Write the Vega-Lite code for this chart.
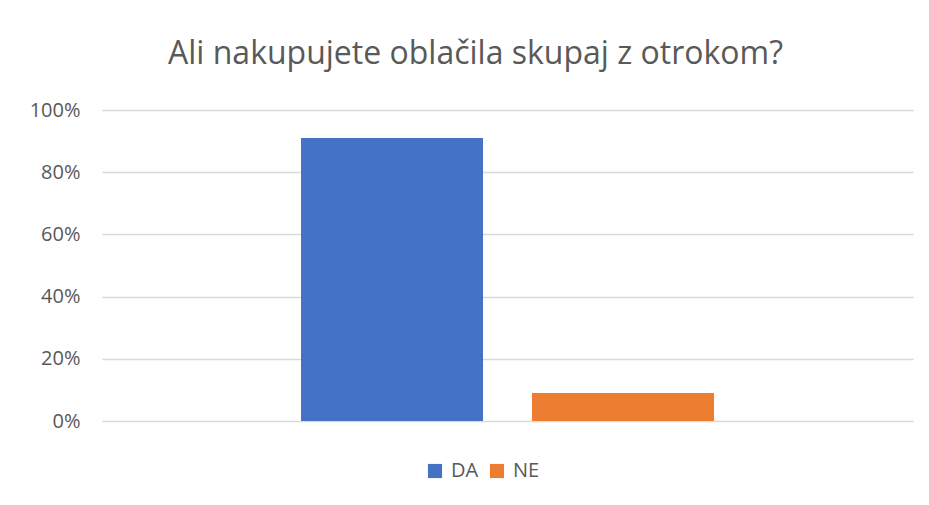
{
  "$schema": "https://vega.github.io/schema/vega-lite/v6.json",
  "autosize": "none",
  "width": 811,
  "height": 311,
  "padding": {"left": 102, "top": 110, "right": 16, "bottom": 84},
  "background": "white",
  "title": {
    "text": "Ali nakupujete oblačila skupaj z otrokom?",
    "font": "Open Sans",
    "fontSize": 32,
    "fontWeight": "normal",
    "color": "#595959",
    "anchor": "middle",
    "dx": -32,
    "offset": 29
  },
  "data": {
    "values": [
      {"odgovor": "DA", "delez": 0.91},
      {"odgovor": "NE", "delez": 0.09}
    ]
  },
  "mark": {"type": "bar"},
  "encoding": {
    "x": {
      "field": "odgovor",
      "type": "nominal",
      "axis": null,
      "scale": {"paddingInner": 0.212, "paddingOuter": 0.8615}
    },
    "y": {
      "field": "delez",
      "type": "quantitative",
      "scale": {"domain": [0, 1]},
      "axis": {
        "format": "%",
        "values": [0, 0.2, 0.4, 0.6, 0.8, 1],
        "title": null,
        "domain": false,
        "ticks": false,
        "labelFont": "Open Sans",
        "labelFontSize": 20,
        "labelColor": "#595959",
        "labelPadding": 22,
        "gridColor": "#D9D9D9",
        "gridWidth": 1.5
      }
    },
    "color": {
      "field": "odgovor",
      "type": "nominal",
      "scale": {"domain": ["DA", "NE"], "range": ["#4472C4", "#ED7D31"]},
      "legend": {
        "title": null,
        "orient": "none",
        "direction": "horizontal",
        "legendX": 323,
        "legendY": 351,
        "symbolType": "square",
        "symbolSize": 200,
        "symbolStrokeWidth": 0,
        "labelFont": "Open Sans",
        "labelFontSize": 20,
        "labelColor": "#595959",
        "columnPadding": 8,
        "labelOffset": 6
      }
    }
  },
  "config": {"view": {"stroke": null}}
}
